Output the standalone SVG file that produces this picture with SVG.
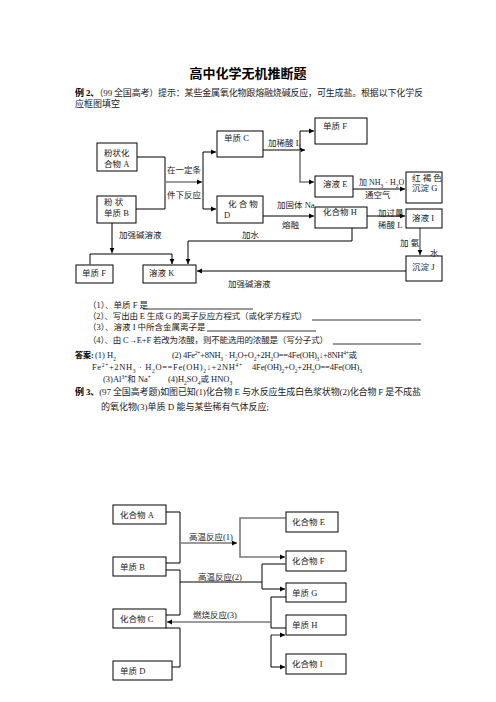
<svg xmlns="http://www.w3.org/2000/svg" width="496" height="702" viewBox="0 0 496 702">
<style>
text{font-family:"Liberation Serif","Noto Sans CJK SC",serif;font-size:8.5px;fill:#222}
.t{font-family:"Noto Sans CJK SC",sans-serif;font-size:13px;font-weight:bold;fill:#000}
.b{font-size:9px}
.bold{font-weight:bold;fill:#000}
.bx{fill:#fff;stroke:#000;stroke-width:1}
.ln{fill:none;stroke:#000;stroke-width:1}
.gy{fill:none;stroke:#7a7a7a;stroke-width:1.6}
.ul{stroke:#000;stroke-width:0.8}
.sb{font-size:5.5px;baseline-shift:sub}
.sp{font-size:5.5px;baseline-shift:super}
</style>
<defs>
<marker id="ar" markerWidth="6" markerHeight="6" refX="5" refY="3" orient="auto" markerUnits="userSpaceOnUse">
<path d="M0,0.6 L5,3 L0,5.4 Z" fill="#000"/>
</marker>
</defs>
<rect width="496" height="702" fill="#fff"/>

<text class="t" x="248" y="78" text-anchor="middle">高中化学无机推断题</text>
<text class="b" x="75" y="96" textLength="348" lengthAdjust="spacing"><tspan class="bold">例 2、</tspan>（99 全国高考）提示：某些金属氧化物跟熔融烧碱反应，可生成盐。根据以下化学反</text>
<text class="b" x="75" y="107">应框图填空</text>

<!-- diagram 1 connectors -->
<g id="connectors1">
<path class="ln" d="M137,157 H165 V209 H136"/>
<path class="gy" d="M165,182 H202" marker-end="url(#ar)"/>
<path class="ln" d="M203,152 V209"/>
<path class="ln" d="M203,152 H216" marker-end="url(#ar)"/>
<path class="ln" d="M203,209 H216" marker-end="url(#ar)"/>
<path class="ln" d="M263,150 H305" marker-end="url(#ar)"/>
<path class="ln" d="M300,150 V131 H314" marker-end="url(#ar)"/>
<path class="gy" d="M300,150 V182 H314" marker-end="url(#ar)"/>
<path class="ln" d="M263,216 H314" marker-end="url(#ar)"/>
<path class="ln" d="M353,189 H405" marker-end="url(#ar)"/>
<path class="ln" d="M367,216 H405" marker-end="url(#ar)"/>
<path class="ln" d="M352,228 V241 H188 V264" marker-end="url(#ar)"/>
<path class="ln" d="M112,223 V253" marker-end="url(#ar)"/>
<path class="ln" d="M90,264 V254 H172 V264" marker-end="url(#ar)" marker-start="url(#ar)"/>
<path class="gy" d="M420,228 V255" marker-end="url(#ar)"/>
<path class="ln" d="M406,271 H197" marker-end="url(#ar)"/>
</g>

<g id="nA"><rect class="bx" x="97" y="143" width="40" height="28"/><text x="104" y="156">粉状化</text><text x="104" y="167">合物 A</text></g>
<g id="nB"><rect class="bx" x="97" y="196" width="39" height="27"/><text x="104" y="205">粉  状</text><text x="104" y="216">单质 B</text></g>
<g id="nC"><rect class="bx" x="217" y="131" width="46" height="26"/><text x="224" y="141">单质 C</text></g>
<g id="nD"><rect class="bx" x="217" y="196" width="46" height="27"/><text x="228" y="207">化 合 物</text><text x="224" y="218">D</text></g>
<g id="nF1"><rect class="bx" x="315" y="118" width="52" height="26"/><text x="323" y="129">单质 F</text></g>
<g id="nE"><rect class="bx" x="315" y="176" width="38" height="21"/><text x="323" y="187">溶液 E</text></g>
<g id="nH"><rect class="bx" x="315" y="207" width="52" height="21"/><text x="323" y="215">化合物 H</text></g>
<g id="nG"><rect class="bx" x="406" y="172" width="36" height="31"/><text x="412" y="181">红 褐 色</text><text x="412" y="191">沉淀 G</text></g>
<g id="nI"><rect class="bx" x="406" y="209" width="36" height="19"/><text x="412" y="221">溶液 I</text></g>
<g id="nJ"><rect class="bx" x="406" y="256" width="36" height="25"/><text x="412" y="270">沉淀 J</text></g>
<g id="nF2"><rect class="bx" x="76" y="265" width="37" height="18"/><text x="82" y="276">单质 F</text></g>
<g id="nK"><rect class="bx" x="143" y="265" width="53" height="18"/><text x="149" y="276">溶液 K</text></g>

<g id="labels1">
<text x="167" y="173">在一定条</text>
<text x="167" y="198">件下反应</text>
<text x="268" y="146">加稀酸 L</text>
<text x="277" y="208">加固体 Na</text>
<text x="282" y="228">熔融</text>
<text x="359" y="185" style="font-size:8px">加 NH<tspan class="sb">3</tspan> · H<tspan class="sb">2</tspan>O</text>
<text x="365" y="198">通空气</text>
<text x="378" y="216">加过量</text>
<text x="378" y="228">稀酸 L</text>
<text x="242" y="238">加水</text>
<text x="119" y="238">加强碱溶液</text>
<text x="400" y="246">加  氨</text>
<text x="430" y="256">水</text>
<text x="228" y="287">加强碱溶液</text>
</g>

<g id="questions">
<text x="88" y="308">（1）、单质 F 是</text>
<line class="ul" x1="143" y1="309" x2="253" y2="309"/>
<text x="88" y="319" textLength="219" lengthAdjust="spacing">（2）、写出由 E 生成 G 的离子反应方程式（或化学方程式）</text>
<line class="ul" x1="312" y1="320" x2="421" y2="320"/>
<text x="88" y="330">（3）、溶液 I 中所含金属离子是</text>
<line class="ul" x1="207" y1="331" x2="316" y2="331"/>
<text x="88" y="343" textLength="240" lengthAdjust="spacing">（4）、由 C→E+F 若改为浓酸，则不能选用的浓酸是（写分子式）</text>
<line class="ul" x1="333" y1="344" x2="421" y2="344"/>
</g>

<g id="answers">
<text x="75" y="358" style="font-size:8px"><tspan class="bold">答案:</tspan></text>
<text x="95" y="358">(1) H<tspan class="sb">2</tspan></text>
<text x="172" y="358" textLength="185" lengthAdjust="spacing">(2) 4Fe<tspan class="sp">2+</tspan>+8NH<tspan class="sb">3</tspan> · H<tspan class="sb">2</tspan>O+O<tspan class="sb">2</tspan>+2H<tspan class="sb">2</tspan>O==4Fe(OH)<tspan class="sb">3</tspan>↓+8NH<tspan class="sp">4+</tspan>或</text>
<text x="92" y="370" textLength="150" lengthAdjust="spacing">Fe<tspan class="sp">2+</tspan>+2NH<tspan class="sb">3</tspan> · H<tspan class="sb">2</tspan>O==Fe(OH)<tspan class="sb">2</tspan>↓+2NH<tspan class="sp">4+</tspan></text>
<text x="252" y="370" textLength="110" lengthAdjust="spacing">4Fe(OH)<tspan class="sb">2</tspan>+O<tspan class="sb">2</tspan>+2H<tspan class="sb">2</tspan>O==4Fe(OH)<tspan class="sb">3</tspan></text>
<text x="103" y="382">(3)Al<tspan class="sp">3+</tspan>和 Na<tspan class="sp">+</tspan></text>
<text x="168" y="382">(4)H<tspan class="sb">2</tspan>SO<tspan class="sb">4</tspan>或 HNO<tspan class="sb">3</tspan></text>
<text class="b" x="75" y="395" textLength="346" lengthAdjust="spacing"><tspan class="bold">例 3、</tspan>(97 全国高考题)如图已知(1)化合物 E 与水反应生成白色浆状物(2)化合物 F 是不成盐</text>
<text class="b" x="101" y="410">的氧化物(3)单质 D 能与某些稀有气体反应;</text>
</g>

<!-- diagram 2 connectors -->
<g id="connectors2">
<path class="ln" d="M166,512 H180 V563 H166"/>
<path class="gy" d="M180,543 H237" marker-end="url(#ar)"/>
<path class="gy" d="M285,518 H240 V557 H285" marker-end="url(#ar)" marker-start="url(#ar)"/>
<path class="ln" d="M166,570 H180 V615 H166"/>
<path class="ln" d="M180,582 H262"/>
<path class="ln" d="M285,564 H262 V589 H285" marker-end="url(#ar)" marker-start="url(#ar)"/>
<path class="ln" d="M286,597 H271 V628 H286"/>
<path class="gy" d="M271,622 H167" marker-end="url(#ar)"/>
<path class="gy" d="M271,635 H285" marker-end="url(#ar)"/>
<path class="ln" d="M271,635 V667 H285" marker-end="url(#ar)"/>
<path class="ln" d="M166,628 H180 V667 H172"/>
</g>

<g id="n2A"><rect class="bx" x="113" y="505" width="53" height="19"/><text x="120" y="518">化合物 A</text></g>
<g id="n2B"><rect class="bx" x="113" y="557" width="53" height="19"/><text x="120" y="570">单质 B</text></g>
<g id="n2C"><rect class="bx" x="113" y="609" width="53" height="19"/><text x="120" y="622">化合物 C</text></g>
<g id="n2D"><rect class="bx" x="113" y="661" width="59" height="19"/><text x="120" y="674">单质 D</text></g>
<g id="n2E"><rect class="bx" x="286" y="512" width="52" height="20"/><text x="292" y="525">化合物 E</text></g>
<g id="n2F"><rect class="bx" x="286" y="551" width="60" height="20"/><text x="292" y="564">化合物 F</text></g>
<g id="n2G"><rect class="bx" x="286" y="583" width="60" height="19"/><text x="292" y="596">单质 G</text></g>
<g id="n2H"><rect class="bx" x="286" y="615" width="60" height="20"/><text x="292" y="628">单质 H</text></g>
<g id="n2I"><rect class="bx" x="286" y="654" width="60" height="20"/><text x="292" y="667">化合物 I</text></g>

<g id="labels2">
<text x="189" y="540">高温反应(1)</text>
<text x="198" y="580">高温反应(2)</text>
<text x="193" y="618">燃烧反应(3)</text>
</g>
</svg>
